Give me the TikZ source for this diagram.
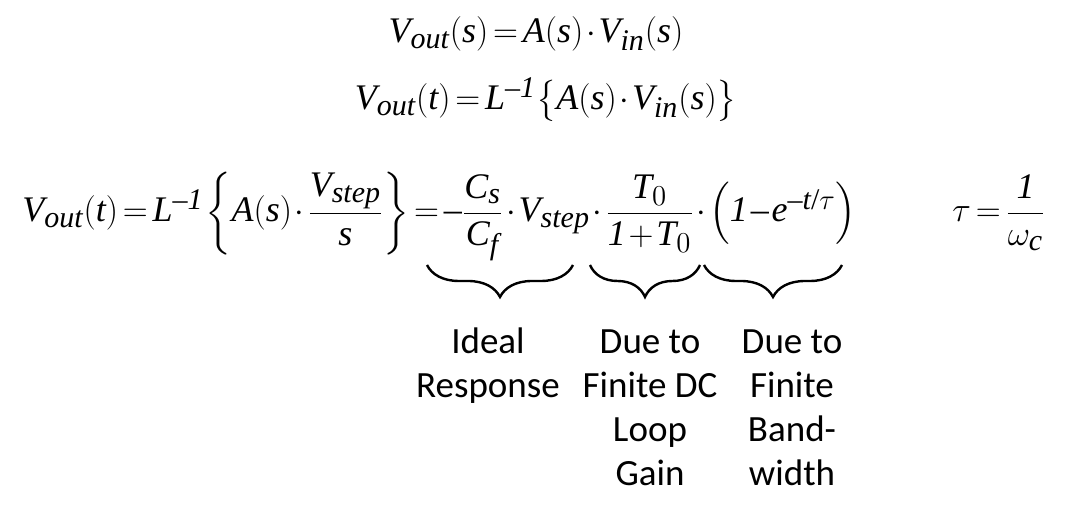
\documentclass[tikz,border=0pt]{standalone}
\usepackage{amsmath}
\usepackage{fontspec}
\setmainfont{Liberation Serif}
\newfontfamily\labelfont{Carlito}
\usepackage[italic]{mathastext}
\usetikzlibrary{decorations.pathreplacing, positioning}
\newcommand{\unit}{\mathit{1}}
\newcommand{\tightmath}{\thickmuskip=2.5mu\medmuskip=1.5mu\thinmuskip=1mu}
\tikzset{
	every node/.style={
		font=\fontsize{18}{22}\selectfont\tightmath,
		inner sep=0pt
	},
	formula/.style={
		anchor=base
	},
	cause/.style={
		font=\labelfont\fontsize{18.5}{22}\selectfont,
		align=center,
		anchor=north
	},
	under brace/.style={
		decorate,
		decoration={brace, mirror, amplitude=16pt},
		line width=1.2pt
	}
}

\begin{document}
\begin{tikzpicture}[x=0.5pt, y=-0.5pt]
	\useasboundingbox (0,0) rectangle (1066,506);
	
	% equations
	\node[formula] (laplace) at (536,43) {$V_{out}(s)=A(s)\cdot V_{in}(s)$};
	\node[formula] (inverse) at (546,110) {$V_{out}(t)=L^{-\unit}\bigl\{A(s)\cdot V_{in}(s)\bigr\}$};
	\node[formula, anchor=base west] (step) at (22,222) {$V_{out}(t)=L^{-\unit}\left\{A(s)\cdot\dfrac{V_{step}}{s}\right\}=-\dfrac{C_s}{C_f}\cdot V_{step}\cdot\dfrac{T_0}{\unit+T_0}\cdot\left(\unit-e^{-t/\tau}\right)$};
	\node[formula] (tau) at (999,222) {$\tau=\dfrac{\unit}{\omega_c}$};
	
	% braces
	\coordinate (ideal west) at (427,265);
	\coordinate (ideal east) at (573,265);
	\coordinate (gain west) at (590,265);
	\coordinate (gain east) at (700,265);
	\coordinate (bw west) at (704,265);
	\coordinate (bw east) at (842,265);
	\draw[under brace] (ideal west) -- (ideal east);
	\draw[under brace] (gain west) -- (gain east);
	\draw[under brace] (bw west) -- (bw east);
	
	\node[cause] (ideal) at (488,322) {\strut Ideal\\Response};
	\node[cause] (gain) at (650,322) {\strut Due to\\Finite DC\\Loop\\Gain};
	\node[cause] (bw) at (792,322) {\strut Due to\\Finite\\Band-\\width};
\end{tikzpicture}
\end{document}
